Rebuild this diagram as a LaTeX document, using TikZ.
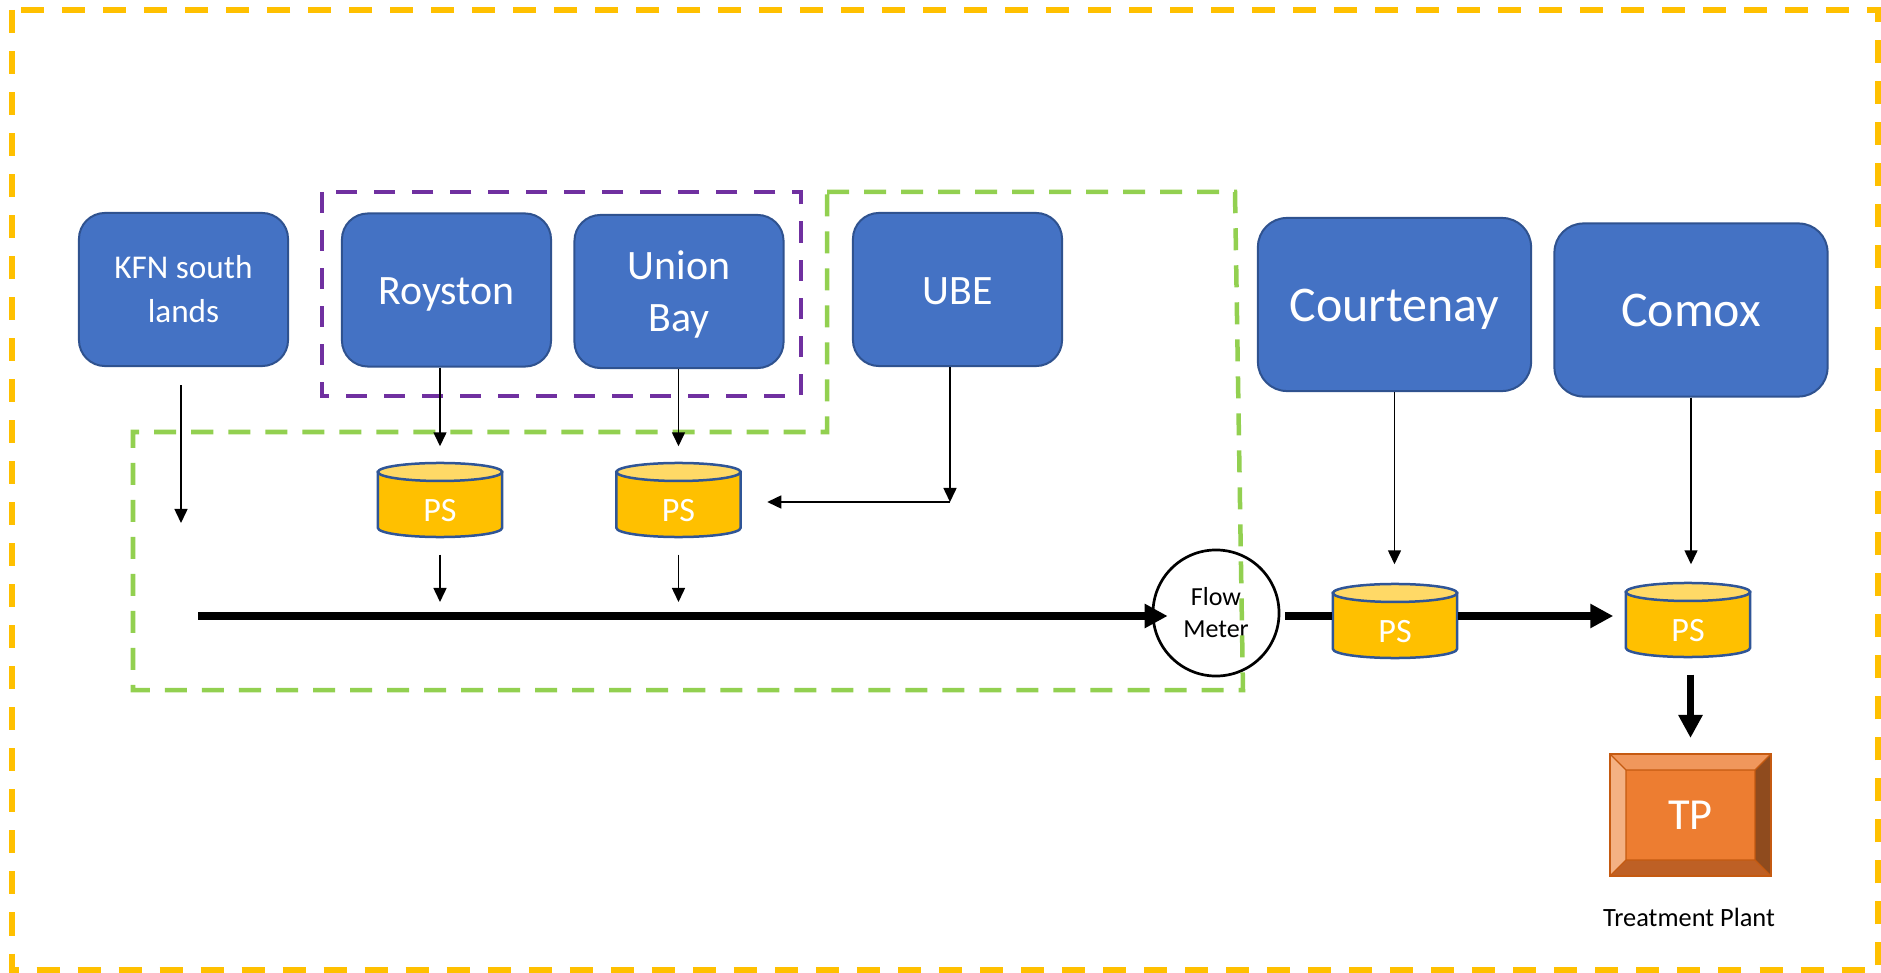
\documentclass[tikz,border=0pt]{standalone}
\usepackage{fontspec}
\setmainfont{Carlito}
\usetikzlibrary{arrows.meta, calc}

\definecolor{frameorange}{HTML}{FFC000}
\definecolor{groupgreen}{HTML}{92D050}
\definecolor{grouppurple}{HTML}{7030A0}
\definecolor{boxblue}{HTML}{4472C4}
\definecolor{boxedge}{HTML}{2F528F}
\definecolor{pstop}{HTML}{FFD966}
\definecolor{psbody}{HTML}{FFC000}
\definecolor{psedge}{HTML}{2F5597}
\definecolor{tpmid}{HTML}{ED7D31}
\definecolor{tplight}{HTML}{F4B183}
\definecolor{tptop}{HTML}{F0975C}
\definecolor{tpdark}{HTML}{8F4B1E}
\definecolor{tpbottom}{HTML}{BE6025}
\definecolor{tpedge}{HTML}{C55A11}

\tikzset{
  frame/.style={draw=frameorange, line width=0.06cm, dash pattern=on 0.23cm off 0.18cm},
  purplegroup/.style={draw=grouppurple, line width=0.045cm, dash pattern=on 0.21cm off 0.17cm},
  greengroup/.style={draw=groupgreen, line width=0.045cm, dash pattern=on 0.22cm off 0.15cm},
  area/.style={draw=boxedge, fill=boxblue, line width=0.02cm, text=white, align=center,
    inner sep=0pt, rounded corners=0.26cm, minimum width=2.09cm, minimum height=1.53cm,
    font=\fontsize{11.9}{14.8}\selectfont},
  bigarea/.style={area, rounded corners=0.29cm, minimum width=2.73cm, minimum height=1.73cm,
    font=\fontsize{14.2}{17}\selectfont},
  oneline/.style={text height=1.05em, text depth=0.2em},
  psnode/.style={minimum width=1.24cm, minimum height=0.74cm, inner sep=0pt},
  pstext/.style={text=white, inner sep=0pt, font=\fontsize{9.7}{11}\selectfont},
  meter/.style={circle, draw=black, line width=0.027cm, minimum size=1.26cm, inner sep=0pt,
    align=center, font=\fontsize{7.4}{9.1}\selectfont},
  plant/.style={draw=tpedge, fill=tpmid, line width=0.02cm, minimum width=1.61cm,
    minimum height=1.22cm, inner sep=0pt, text=white, font=\fontsize{12.6}{14}\selectfont,
    path picture={
      \path (path picture bounding box.north west) coordinate (bnw)
            (path picture bounding box.north east) coordinate (bne)
            (path picture bounding box.south west) coordinate (bsw)
            (path picture bounding box.south east) coordinate (bse);
      \fill[tptop] (bnw) -- (bne) -- ([shift={(-0.16cm,-0.16cm)}]bne) -- ([shift={(0.16cm,-0.16cm)}]bnw) -- cycle;
      \fill[tplight] (bnw) -- ([shift={(0.16cm,-0.16cm)}]bnw) -- ([shift={(0.16cm,0.16cm)}]bsw) -- (bsw) -- cycle;
      \fill[tpdark] (bne) -- (bse) -- ([shift={(-0.16cm,0.16cm)}]bse) -- ([shift={(-0.16cm,-0.16cm)}]bne) -- cycle;
      \fill[tpbottom] (bsw) -- (bse) -- ([shift={(-0.16cm,0.16cm)}]bse) -- ([shift={(0.16cm,0.16cm)}]bsw) -- cycle;
      \draw[tpedge, line width=0.012cm] ([shift={(0.16cm,-0.16cm)}]bnw) rectangle ([shift={(-0.16cm,0.16cm)}]bse)
        (bnw) -- ([shift={(0.16cm,-0.16cm)}]bnw) (bne) -- ([shift={(-0.16cm,-0.16cm)}]bne)
        (bsw) -- ([shift={(0.16cm,0.16cm)}]bsw) (bse) -- ([shift={(-0.16cm,0.16cm)}]bse);
    }},
  caption/.style={text=black, inner sep=0pt, font=\fontsize{7.5}{9}\selectfont},
  flow/.style={-{Triangle[length=0.14cm,width=0.13cm]}, line width=0.015cm},
  mainflow/.style={line width=0.075cm},
  mainarrow/.style={mainflow, -{Triangle[length=0.23cm,width=0.23cm]}}
}

% pump station drum: name, x, y
\newcommand{\pumpstation}[3]{%
  \begin{scope}[shift={(#2,#3)}]
    \filldraw[fill=psbody, draw=psedge, line width=0.025cm]
      (-0.62cm,0.28cm) -- (-0.62cm,-0.28cm)
      arc[start angle=180, end angle=360, x radius=0.62cm, y radius=0.09cm]
      -- (0.62cm,0.28cm) -- cycle;
    \filldraw[fill=pstop, draw=psedge, line width=0.025cm]
      (0cm,0.28cm) ellipse[x radius=0.62cm, y radius=0.09cm];
  \end{scope}
  \node[psnode] (#1) at (#2,#3) {};
  \node[pstext] (#1text) at ([yshift=-0.11cm]#1.center) {PS};
}

\begin{document}
\begin{tikzpicture}[x=0.01cm, y=-0.01cm]
  \useasboundingbox (0,0) rectangle (1881,973);
  \draw[frame] (12,10) rectangle (1878,970);

  % catchments
  \node[area, font=\fontsize{9.45}{12.5}\selectfont] (kfn) at (183.5,289.5) {KFN south\\lands};
  \node[area, oneline] (royston) at (446.5,290) {Royston};
  \node[area, text depth=0pt] (unionbay) at (679,291.5) {Union\\Bay};
  \node[area, oneline] (ube) at (957.5,289.5) {UBE};
  \node[bigarea, oneline, text height=1.15em] (courtenay) at (1394.5,304.5) {Courtenay};
  \node[bigarea, oneline, text height=1.15em] (comox) at (1691,310) {Comox};

  % pump stations
  \pumpstation{psroyston}{440}{500}
  \pumpstation{psunion}{678.5}{500}
  \pumpstation{pscourtenay}{1395}{621}
  \pumpstation{pscomox}{1688}{620}

  \node[meter] (fm) at (1216,613) {Flow\\Meter};
  \node[plant] (tp) at (1690.5,815) {TP};
  \node[caption, anchor=base] (tpname) at (1689,926) {Treatment Plant};

  % groups
  \draw[purplegroup] (322,192) rectangle (801,396);
  \draw[greengroup] (827,192) -- (1235,192) -- (1243,690) -- (133,690) -- (133,432) -- (827,432) -- cycle;

  % flows
  \coordinate (kfnend) at (181,523);
  \coordinate (ubecorner) at (950,502);
  \coordinate (mainstart) at (198,616);
  \draw[flow, shorten <=0.18cm] (kfn.south -| kfnend) -- (kfnend);
  \draw[flow, shorten >=0.16cm] (royston.south -| psroyston) -- (psroyston.north);
  \draw[flow, shorten >=0.16cm] (unionbay.south -| psunion) -- (psunion.north);
  \draw[flow] (ube.south -| ubecorner) -- (ubecorner);
  \draw[flow, shorten >=0.26cm] (ubecorner) -- (ubecorner -| psunion.east);
  \draw[flow, shorten <=0.17cm, shorten >=0.14cm] (psroyston.south) -- (psroyston.south |- mainstart);
  \draw[flow, shorten <=0.17cm, shorten >=0.14cm] (psunion.south) -- (psunion.south |- mainstart);
  \draw[flow, shorten >=0.19cm] (courtenay.south) -- (courtenay.south |- pscourtenay.north);
  \draw[flow, shorten >=0.18cm] (comox.south) -- (comox.south |- pscomox.north);
  \draw[mainarrow, shorten >=-0.16cm] (mainstart) -- (mainstart -| fm.west);
  \draw[mainflow, shorten <=0.05cm] (fm.east |- mainstart) -- (pscourtenay.west |- mainstart);
  \draw[mainarrow, shorten >=0.12cm] (pscourtenay.east |- mainstart) -- (pscomox.west |- mainstart);
  \draw[mainarrow, shorten <=0.17cm, shorten >=0.15cm] (tp.north |- pscomox.south) -- (tp.north);
\end{tikzpicture}
\end{document}
